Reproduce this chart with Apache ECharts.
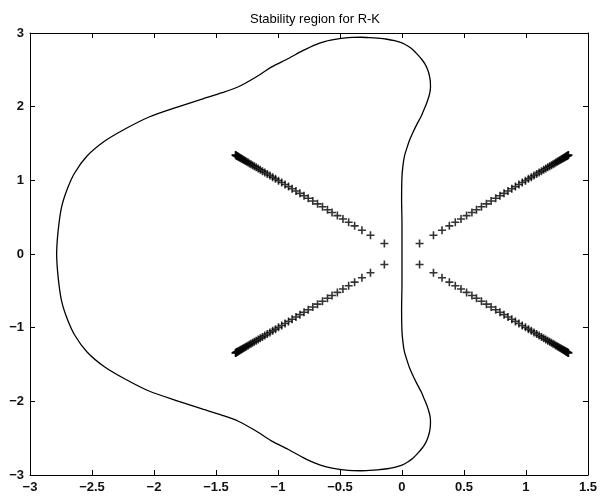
<!DOCTYPE html>
<html>
<head>
<meta charset="utf-8">
<script src="https://cdn.jsdelivr.net/npm/echarts@6/dist/echarts.min.js"></script>
<style>
  html, body { margin: 0; padding: 0; background: #fff; }
  #chart { width: 600px; height: 499px; }
</style>
</head>
<body>
<div id="chart"></div>
<script>
// Boundary of the RK stability region, upper half (origin -> top lobe -> left real-axis crossing)
const boundaryUpper = [
  [0.000, 0.00], [0.000, 0.40], [-0.003, 0.75], [0.000, 1.05], [0.008, 1.20],
  [0.020, 1.33], [0.040, 1.44], [0.060, 1.54], [0.088, 1.65], [0.120, 1.76],
  [0.155, 1.87], [0.175, 1.95], [0.195, 2.03], [0.212, 2.11], [0.225, 2.19],
  [0.230, 2.27], [0.228, 2.35], [0.220, 2.43], [0.205, 2.51], [0.185, 2.58],
  [0.160, 2.64], [0.130, 2.70], [0.090, 2.77], [0.050, 2.82], [0.000, 2.865],
  [-0.060, 2.895], [-0.120, 2.915], [-0.200, 2.93], [-0.260, 2.937], [-0.330, 2.942],
  [-0.400, 2.940], [-0.470, 2.930], [-0.540, 2.913], [-0.610, 2.89], [-0.700, 2.84],
  [-0.800, 2.76], [-0.920, 2.65], [-1.050, 2.54], [-1.180, 2.40], [-1.320, 2.27],
  [-1.450, 2.19], [-1.600, 2.11], [-1.800, 2.00], [-2.040, 1.86], [-2.230, 1.70],
  [-2.400, 1.53], [-2.540, 1.33], [-2.640, 1.10], [-2.700, 0.88], [-2.745, 0.64],
  [-2.772, 0.33], [-2.785, 0.00]
];
// Lower half (left real-axis crossing -> bottom lobe -> origin)
const boundaryLower = [
  [-2.785, 0.00], [-2.772, -0.33], [-2.745, -0.64], [-2.700, -0.88], [-2.640, -1.10],
  [-2.540, -1.33], [-2.400, -1.53], [-2.230, -1.70], [-2.040, -1.86], [-1.800, -2.00],
  [-1.600, -2.11], [-1.450, -2.19], [-1.320, -2.27], [-1.180, -2.40], [-1.050, -2.54],
  [-0.920, -2.65], [-0.800, -2.76], [-0.700, -2.84], [-0.610, -2.89], [-0.540, -2.913],
  [-0.470, -2.930], [-0.400, -2.940], [-0.330, -2.942], [-0.260, -2.937], [-0.200, -2.93],
  [-0.120, -2.915], [-0.060, -2.895], [0.000, -2.865], [0.050, -2.82], [0.090, -2.77],
  [0.130, -2.70], [0.160, -2.64], [0.185, -2.58], [0.205, -2.51], [0.220, -2.43],
  [0.228, -2.35], [0.230, -2.27], [0.225, -2.19], [0.212, -2.11], [0.195, -2.03],
  [0.175, -1.95], [0.155, -1.87], [0.120, -1.76], [0.088, -1.65], [0.060, -1.54],
  [0.040, -1.44], [0.020, -1.33], [0.008, -1.20], [0.000, -1.05], [-0.003, -0.75],
  [0.000, -0.40], [0.000, 0.00]
];

// Distance of each eigenvalue marker from the origin along x (and y), one diagonal arm
const plusDist = [
  0.142, 0.254, 0.323, 0.382, 0.430, 0.476, 0.521, 0.564, 0.601, 0.641,
  0.681, 0.719, 0.756, 0.790, 0.823, 0.855, 0.886, 0.915, 0.943, 0.970,
  0.996, 1.020, 1.043, 1.065, 1.086, 1.106, 1.125, 1.143, 1.160, 1.176,
  1.191, 1.205, 1.218, 1.230, 1.241, 1.252, 1.262, 1.271, 1.280, 1.288,
  1.296, 1.303, 1.310, 1.316, 1.322, 1.327, 1.332, 1.336, 1.340, 1.343
];
// The four arms: quadrant signs (x, y)
const armSigns = [[1, 1], [1, -1], [-1, 1], [-1, -1]];

const xTicks = { min: -3, max: 1.5, step: 0.5 };
const yTicks = { min: -3, max: 3, step: 1 };

const boundary = boundaryUpper.concat(boundaryLower.slice(1));
const plusPoints = [];
armSigns.forEach(([sx, sy]) => plusDist.forEach(d => plusPoints.push([sx * d, sy * d])));

const minusFmt = v => String(v).replace('-', '\u2212');
const fontFamily = '"Liberation Sans", Arial, sans-serif';
const lineStyle = { color: '#000', width: 1 };

function axis(base, pos, showLabel) {
  return {
    type: 'value', position: pos,
    min: base.min, max: base.max, interval: base.step,
    axisLine: { show: true, onZero: false, lineStyle },
    axisTick: { show: true, inside: true, length: 5, lineStyle },
    axisLabel: {
      show: showLabel, formatter: minusFmt, margin: 6,
      fontFamily, fontSize: 13, fontWeight: 'bold', color: '#111'
    },
    splitLine: { show: false }
  };
}

const chart = echarts.init(document.getElementById('chart'), null, { renderer: 'canvas' });
chart.setOption({
  animation: false,
  backgroundColor: '#fff',
  title: {
    text: 'Stability region for R-K',
    left: 310, top: 8, textAlign: 'center',
    textStyle: { fontFamily, fontSize: 13, fontWeight: 'normal', color: '#000' }
  },
  grid: { left: 30, right: 9, top: 33, bottom: 24, containLabel: false },
  xAxis: [axis(xTicks, 'bottom', true), axis(xTicks, 'top', false)],
  yAxis: [axis(yTicks, 'left', true), axis(yTicks, 'right', false)],
  series: [
    {
      type: 'line', data: boundary, showSymbol: false, smooth: 0.25,
      lineStyle: { color: '#000', width: 1.3 }, silent: true
    },
    {
      type: 'scatter', data: plusPoints,
      symbol: 'path://M-1,-0.2H1V0.2H-1Z M-0.2,-1H0.2V1H-0.2Z',
      symbolSize: 8,
      itemStyle: { color: '#000' }, silent: true
    }
  ]
});
</script>
</body>
</html>
